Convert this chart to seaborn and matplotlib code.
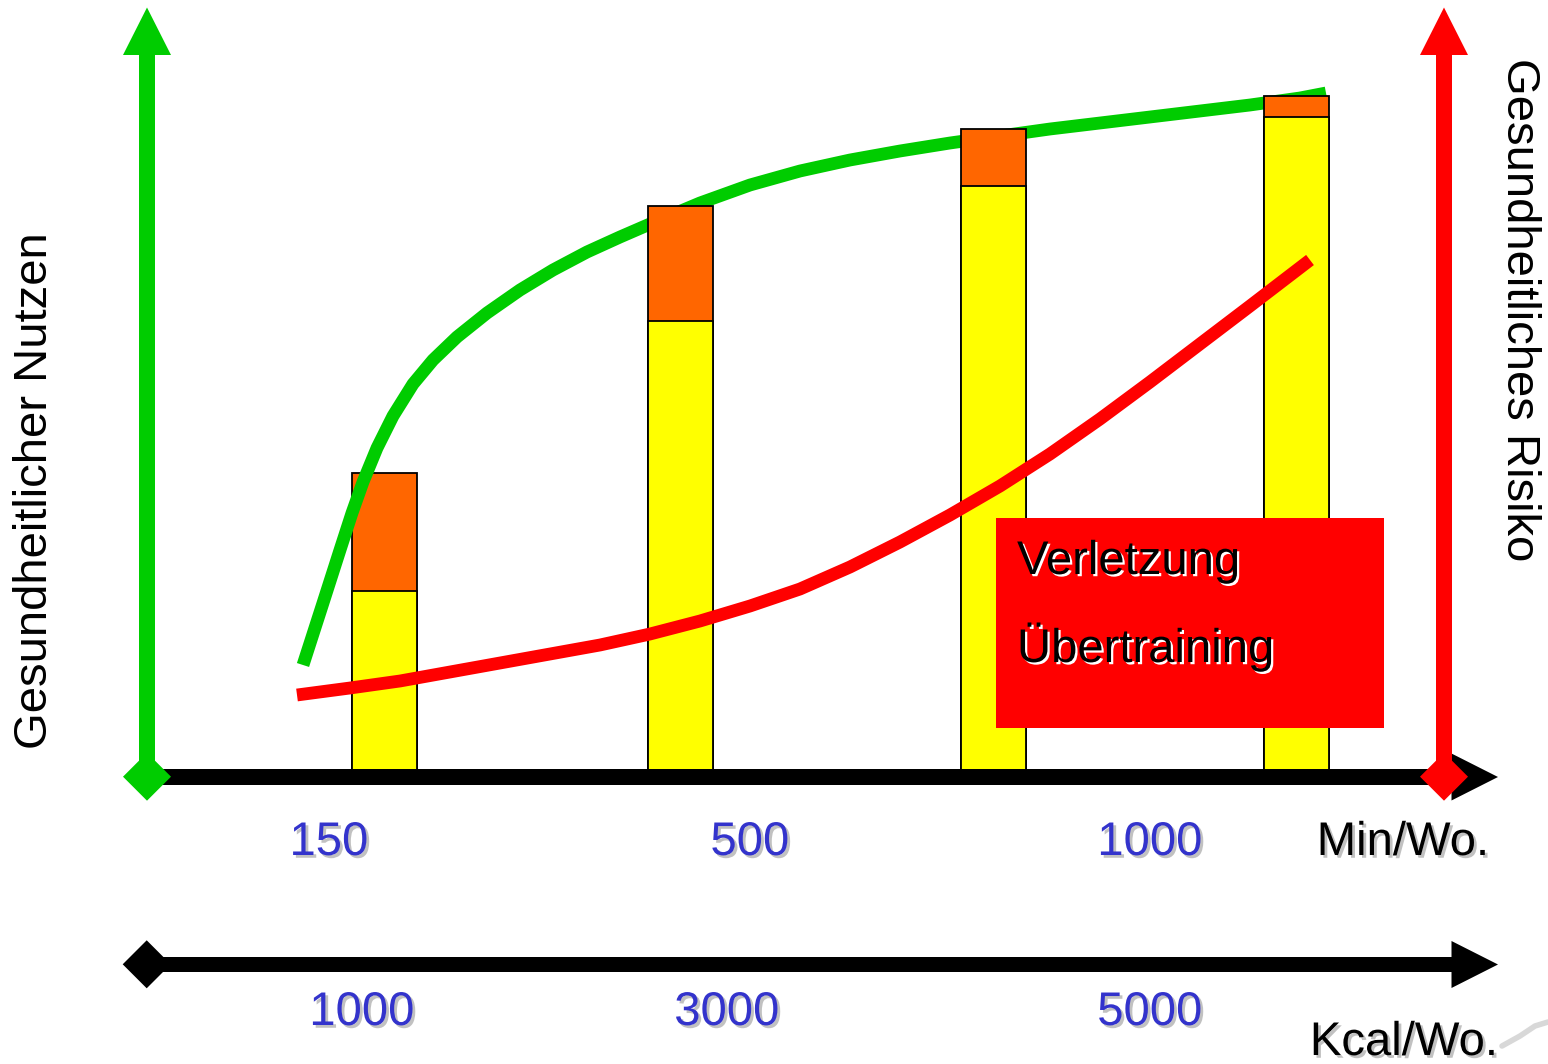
import matplotlib
matplotlib.use("Agg")
import matplotlib.pyplot as plt
import matplotlib.patheffects as pe
from matplotlib.patches import Polygon, Rectangle
import pandas as pd
import seaborn as sns

# ---- data -------------------------------------------------------------
# activity levels (position on the activity axis) for the four columns
bar_pos = [3.85, 6.81, 9.94, 12.965]
# benefit split into the base part (yellow) and the additional part (orange)
bar_base = [18.5, 45.5, 59.0, 65.9]
bar_extra = [11.8, 11.5, 5.7, 2.1]

# health benefit curve (green)
benefit_x = [3.03, 3.23, 3.40, 3.52, 3.63, 3.77, 3.93, 4.13, 4.33, 4.57,
             4.87, 5.20, 5.53, 5.87, 6.20, 6.50, 7.00, 7.50, 8.00, 8.50,
             9.00, 9.50, 10.00, 10.50, 11.00, 11.50, 12.00, 12.50, 13.00,
             13.26]
benefit_y = [11.1, 17.3, 22.6, 26.3, 29.4, 32.8, 36.0, 39.2, 41.6, 43.9,
             46.3, 48.6, 50.6, 52.4, 53.9, 55.2, 57.3, 59.1, 60.5, 61.6,
             62.5, 63.3, 64.0, 64.7, 65.3, 65.9, 66.5, 67.1, 67.8, 68.3]

# health risk curve (red)
risk_x = [2.97, 3.50, 4.00, 4.50, 5.00, 5.50, 6.00, 6.50, 7.00, 7.50,
          8.00, 8.50, 9.00, 9.50, 10.00, 10.50, 11.00, 11.50, 12.00,
          12.50, 13.10]
risk_y = [8.1, 8.8, 9.5, 10.4, 11.3, 12.2, 13.1, 14.2, 15.5, 17.0,
          18.7, 20.9, 23.4, 26.1, 29.0, 32.2, 35.7, 39.4, 43.2, 47.0,
          51.6]

min_labels = ["150", "500", "1000"]
kcal_labels = ["1000", "3000", "5000"]
risk_items = ["Verletzung", "Übertraining"]

# ---- layout -----------------------------------------------------------
min_label_x = [3.29, 7.50, 11.50]
kcal_label_x = [3.62, 7.27, 11.50]

GREEN = "#00CC00"
RED = "#FF0000"
YELLOW = "#FFFF00"
ORANGE = "#FF6600"
BLUE = "#3333CC"

sns.set_theme(style="white")
plt.rcParams["font.family"] = ["Liberation Sans", "DejaVu Sans"]

fig = plt.figure(figsize=(15.48, 10.64), dpi=100)
ax = fig.add_axes([0, 0, 1, 1])

df = pd.DataFrame({
    "pos": bar_pos,
    "base": bar_base,
    "total": [b + e for b, e in zip(bar_base, bar_extra)],
})
bw = 0.65 / (bar_pos[1] - bar_pos[0])
sns.barplot(data=df, x="pos", y="total", native_scale=True, orient="x",
            width=bw, color=ORANGE, saturation=1, edgecolor="black",
            linewidth=1.3, errorbar=None, ax=ax)
sns.barplot(data=df, x="pos", y="base", native_scale=True, orient="x",
            width=bw, color=YELLOW, saturation=1, edgecolor="black",
            linewidth=1.3, errorbar=None, ax=ax)

# first column sits beneath the benefit curve, the others above it
bars = list(ax.patches)
for i, p in enumerate(bars):
    col = i % len(bar_pos)
    layer = 0.1 if i >= len(bar_pos) else 0.0
    p.set_zorder((1.5 if col == 0 else 3.0) + layer)

sns.lineplot(x=benefit_x, y=benefit_y, sort=False, color=GREEN,
             linewidth=9.2, solid_capstyle="butt", solid_joinstyle="round",
             zorder=2.5, ax=ax)
sns.lineplot(x=risk_x, y=risk_y, sort=False, color=RED,
             linewidth=9.2, solid_capstyle="butt", solid_joinstyle="round",
             zorder=4, ax=ax)

# ---- axes drawn as arrows ---------------------------------------------
def vertical_arrow(xc, color):
    ax.add_patch(Rectangle((xc - 0.08, 0), 0.16, 72.3, color=color,
                           lw=0, zorder=6))
    ax.add_patch(Polygon([(xc - 0.24, 72.1), (xc + 0.24, 72.1),
                          (xc, 76.85)], closed=True, color=color,
                         lw=0, zorder=6))


def diamond(xc, yc, color, z):
    ax.add_patch(Polygon([(xc - 0.24, yc), (xc, yc + 2.4),
                          (xc + 0.24, yc), (xc, yc - 2.4)], closed=True,
                         color=color, lw=0, zorder=z))


def horizontal_arrow(yc, z):
    ax.add_patch(Rectangle((1.47, yc - 0.78), 13.1, 1.56, color="black",
                           lw=0, zorder=z))
    ax.add_patch(Polygon([(14.515, yc + 2.35), (14.515, yc - 2.35),
                          (14.98, yc)], closed=True, color="black",
                         lw=0, zorder=z))


horizontal_arrow(-0.1, 5)
vertical_arrow(1.47, GREEN)
vertical_arrow(14.44, RED)
diamond(1.47, -0.07, GREEN, 7)
diamond(14.44, -0.07, RED, 7)

horizontal_arrow(-18.85, 5)
diamond(1.467, -18.83, "black", 5)

# ---- risk box -----------------------------------------------------------
ax.add_patch(Rectangle((9.96, 4.8), 3.88, 21.0, color=RED, lw=0, zorder=8))
light_shadow = [pe.SimplePatchShadow(offset=(1.6, -1.6), shadow_rgbFace="white",
                                     alpha=1.0), pe.Normal()]
for item, yb in zip(risk_items, [20.2, 11.4]):
    ax.text(10.17, yb, item, fontsize=34, color="black", ha="left",
            va="baseline", zorder=9, path_effects=light_shadow)

# ---- labels -------------------------------------------------------------
gray_shadow = [pe.SimplePatchShadow(offset=(2, -2), shadow_rgbFace="#999999",
                                    alpha=0.6), pe.Normal()]
for lab, x in zip(min_labels, min_label_x):
    ax.text(x, -7.9, lab, fontsize=34, color=BLUE, ha="center",
            va="baseline", path_effects=gray_shadow)
for lab, x in zip(kcal_labels, kcal_label_x):
    ax.text(x, -24.9, lab, fontsize=34, color=BLUE, ha="center",
            va="baseline", path_effects=gray_shadow)
ax.text(14.03, -7.9, "Min/Wo.", fontsize=34, color="black", ha="center",
        va="baseline", path_effects=gray_shadow)
ax.text(14.04, -27.9, "Kcal/Wo.", fontsize=34, color="black", ha="center",
        va="baseline", path_effects=gray_shadow)

ax.text(0.35, 28.5, "Gesundheitlicher Nutzen", fontsize=34, color="black",
        rotation=90, ha="center", va="center")
ax.text(15.19, 46.6, "Gesundheitliches Risiko", fontsize=34, color="black",
        rotation=-90, ha="center", va="center")

# faint pen stroke in the lower right corner
ax.plot([15.02, 15.2, 15.35, 15.48], [-27.0, -26.0, -25.0, -24.6],
        color="#d8d8d8", lw=4, solid_capstyle="round", zorder=1)

ax.set_xlim(0, 15.48)
ax.set_ylim(-28.8, 77.6)
ax.set_axis_off()

fig.savefig("out.png", dpi=100)
